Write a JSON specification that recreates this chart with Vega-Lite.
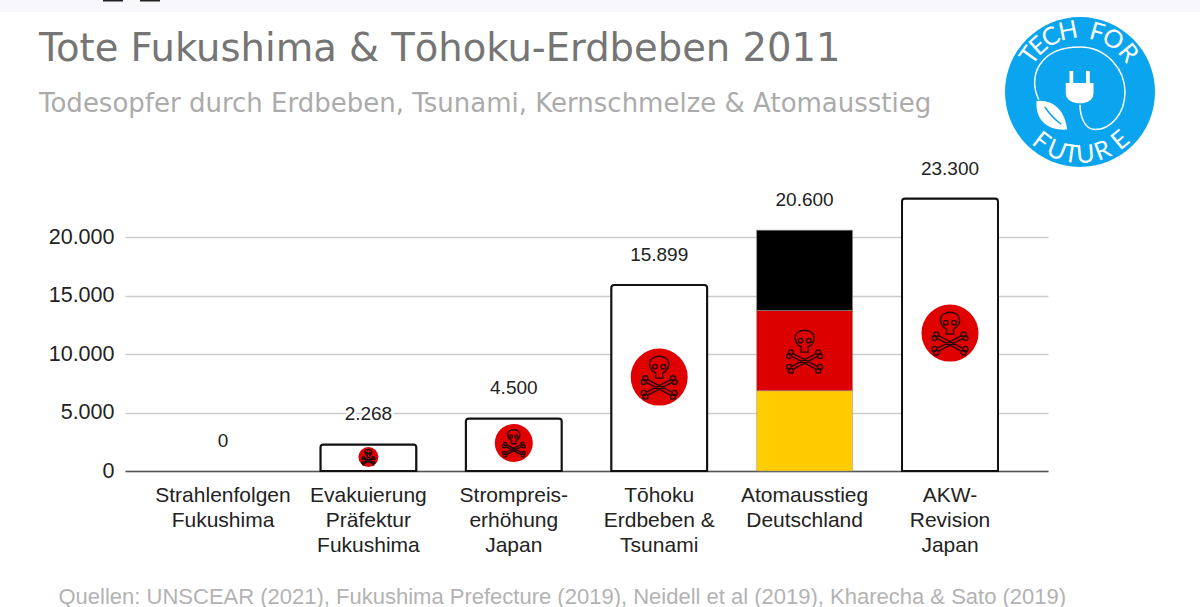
{
"$schema":"https://vega.github.io/schema/vega-lite/v6.json",
"autosize":"none",
"width":923,"height":304,
"padding":{"left":125,"top":167,"right":152,"bottom":136},
"background":"#ffffff",
"config":{"view":{"stroke":null},"locale":{"number":{"decimal":",","thousands":".","grouping":[3],"currency":["","€"]}}},
"title":{"text":"Tote Fukushima & Tōhoku-Erdbeben 2011","subtitle":"Todesopfer durch Erdbeben, Tsunami, Kernschmelze & Atomausstieg","anchor":"start","frame":"group","dx":-86,"offset":-118,"font":"DejaVu Sans","fontSize":38.5,"fontWeight":"normal","color":"#757575","subtitleFont":"DejaVu Sans","subtitleFontSize":26,"subtitleColor":"#ABABAB","subtitlePadding":22},
"datasets":{
"balken":[
{"kategorie":"Strahlenfolgen|Fukushima","wert":0,"mitte":0},
{"kategorie":"Evakuierung|Präfektur|Fukushima","wert":2268,"mitte":1197},
{"kategorie":"Strompreis-|erhöhung|Japan","wert":4500,"mitte":2393},
{"kategorie":"Tōhoku|Erdbeben &|Tsunami","wert":15899,"mitte":8034},
{"kategorie":"Atomausstieg|Deutschland","wert":20600,"mitte":10256},
{"kategorie":"AKW-|Revision|Japan","wert":23300,"mitte":11795}
],
"flagge":[
{"kategorie":"Atomausstieg|Deutschland","band":"Gold","von":0,"bis":6867},
{"kategorie":"Atomausstieg|Deutschland","band":"Rot","von":6867,"bis":13733},
{"kategorie":"Atomausstieg|Deutschland","band":"Schwarz","von":13733,"bis":20600}
],
"logo":[{"lx":0,"ly":0}],
"buchstaben":[
{"b":"T","lx":-50.2,"ly":36.4,"rot":-54},{"b":"E","lx":-41.5,"ly":46.1,"rot":-42},{"b":"C","lx":-29.1,"ly":54.7,"rot":-28},{"b":"H","lx":-11.8,"ly":60.9,"rot":-11},
{"b":"F","lx":17.1,"ly":59.6,"rot":16},{"b":"O","lx":32.9,"ly":52.6,"rot":32},{"b":"R","lx":48.2,"ly":39.0,"rot":51},
{"b":"F","lx":-38.8,"ly":-49.6,"rot":38},{"b":"U","lx":-23.6,"ly":-58.4,"rot":22},{"b":"T","lx":-8.8,"ly":-62.4,"rot":8},{"b":"U","lx":5.5,"ly":-62.8,"rot":-5},{"b":"R","lx":22.6,"ly":-58.8,"rot":-21},{"b":"E","lx":40.5,"ly":-48.3,"rot":-40}
],
"streifen":[
{"x1":-1080,"x2":120,"y1":92,"y2":80,"teil":"Streifen"},
{"x1":-977,"x2":-957,"y1":92,"y2":90.5,"teil":"Rest"},
{"x1":-940,"x2":-920,"y1":92,"y2":90.5,"teil":"Rest"}
]
},
"layer":[
{"data":{"name":"balken"},
 "resolve":{"scale":{"size":"independent"}},
 "layer":[
  {"transform":[{"filter":"datum.wert>0 && datum.wert!=20600"}],
   "mark":{"type":"bar","fill":"#ffffff","stroke":"#111111","strokeWidth":2,"cornerRadiusTopLeft":3,"cornerRadiusTopRight":3},
   "encoding":{
    "x":{"field":"kategorie","type":"nominal","title":"Quellen: UNSCEAR (2021), Fukushima Prefecture (2019), Neidell et al (2019), Kharecha & Sato (2019)",
     "scale":{"domain":["Strahlenfolgen|Fukushima","Evakuierung|Präfektur|Fukushima","Strompreis-|erhöhung|Japan","Tōhoku|Erdbeben &|Tsunami","Atomausstieg|Deutschland","AKW-|Revision|Japan"],"paddingInner":0.34,"paddingOuter":0.344},
     "axis":{"labelExpr":"split(datum.value,'|')","labelAngle":0,"labelFont":"Liberation Sans","labelFontSize":21,"labelColor":"#222222","labelLineHeight":25,"labelPadding":13,"labelBaseline":"top","ticks":false,"domainColor":"#555555","domainWidth":1.5,"titleFont":"Liberation Sans","titleFontSize":22,"titleFontWeight":"normal","titleColor":"#B3B3B3","titleAlign":"left","titleAnchor":"start","titleBaseline":"middle","titleX":-67,"titleY":125}},
    "y":{"field":"wert","type":"quantitative","title":null,"scale":{"domain":[0,26000],"nice":false},
     "axis":{"values":[0,5000,10000,15000,20000],"format":",d","labelFont":"Liberation Sans","labelFontSize":21.5,"labelColor":"#222222","labelPadding":11,"ticks":false,"domain":false,"grid":true,"gridColor":"#CCCCCC","gridWidth":1.5}}
   }},
  {"data":{"name":"flagge"},"mark":{"type":"bar","stroke":"#999999","strokeWidth":0.5},
   "encoding":{"x":{"field":"kategorie","type":"nominal"},
    "y":{"field":"von","type":"quantitative"},"y2":{"field":"bis"},
    "color":{"field":"band","type":"nominal","legend":null,"scale":{"domain":["Gold","Rot","Schwarz"],"range":["#FFCC00","#DD0000","#000000"]}}}},
  {"transform":[{"filter":"datum.wert>0 && datum.wert!=20600"}],"mark":{"type":"point","filled":true,"color":"#E00000","opacity":1},
   "encoding":{"x":{"field":"kategorie","type":"nominal"},"y":{"field":"mitte","type":"quantitative"},
    "size":{"field":"wert","type":"quantitative","legend":null,"scale":{"type":"threshold","domain":[3000,10000],"range":[400,1444,3249]}}}},
  {"transform":[{"filter":"datum.wert>0"}],"mark":{"type":"point","filled":false,"stroke":"#2a0505","strokeWidth":1.4,"opacity":1,
    "shape":"M-0.17,0.05 L-0.17,-0.2 C-0.38,-0.28 -0.46,-0.5 -0.46,-0.62 C-0.46,-0.9 -0.2,-1 0,-1 C0.2,-1 0.46,-0.9 0.46,-0.62 C0.46,-0.5 0.38,-0.28 0.17,-0.2 L0.17,0.05 Z M-0.31,-0.5 a0.11,0.11 0 1,0 0.22,0 a0.11,0.11 0 1,0 -0.22,0 Z M0.09,-0.5 a0.11,0.11 0 1,0 0.22,0 a0.11,0.11 0 1,0 -0.22,0 Z M-0.55,0.12 L0.6,0.72 M-0.62,0.25 L0.52,0.85 M0.55,0.12 L-0.6,0.72 M0.62,0.25 L-0.52,0.85 M-0.78,0.06 a0.12,0.12 0 1,0 0.24,0 a0.12,0.12 0 1,0 -0.24,0 Z M-0.86,0.24 a0.12,0.12 0 1,0 0.24,0 a0.12,0.12 0 1,0 -0.24,0 Z M0.54,0.06 a0.12,0.12 0 1,0 0.24,0 a0.12,0.12 0 1,0 -0.24,0 Z M0.62,0.24 a0.12,0.12 0 1,0 0.24,0 a0.12,0.12 0 1,0 -0.24,0 Z M-0.78,0.94 a0.12,0.12 0 1,0 0.24,0 a0.12,0.12 0 1,0 -0.24,0 Z M-0.86,0.76 a0.12,0.12 0 1,0 0.24,0 a0.12,0.12 0 1,0 -0.24,0 Z M0.54,0.94 a0.12,0.12 0 1,0 0.24,0 a0.12,0.12 0 1,0 -0.24,0 Z M0.62,0.76 a0.12,0.12 0 1,0 0.24,0 a0.12,0.12 0 1,0 -0.24,0 Z"},
   "encoding":{"x":{"field":"kategorie","type":"nominal"},"y":{"field":"mitte","type":"quantitative"},
    "size":{"field":"wert","type":"quantitative","legend":null,"scale":{"type":"threshold","domain":[3000,10000],"range":[225,700,1736]}}}},
  {"mark":{"type":"text","font":"Liberation Sans","fontSize":19,"stroke":"#ffffff","strokeWidth":5,"dy":-30,"baseline":"middle"},
   "encoding":{"x":{"field":"kategorie","type":"nominal"},"y":{"field":"wert","type":"quantitative"},"text":{"field":"wert","type":"quantitative","format":",d"}}},
  {"mark":{"type":"text","font":"Liberation Sans","fontSize":19,"color":"#222222","dy":-30,"baseline":"middle"},
   "encoding":{"x":{"field":"kategorie","type":"nominal"},"y":{"field":"wert","type":"quantitative"},"text":{"field":"wert","type":"quantitative","format":",d"}}}
 ]},
{"layer":[
  {"data":{"name":"streifen"},"mark":{"type":"rect"},
   "encoding":{"x":{"field":"x1","type":"quantitative","axis":null,"scale":{"domain":[-75,75],"range":[880,1030],"nice":false,"zero":false}},"x2":{"field":"x2"},
    "y":{"field":"y1","type":"quantitative","axis":null,"scale":{"domain":[-75,75],"range":[0,-150],"nice":false,"zero":false}},"y2":{"field":"y2"},
    "color":{"field":"teil","type":"nominal","legend":null,"scale":{"domain":["Streifen","Rest"],"range":["#F8F8FC","#222222"]}}}},
  {"data":{"name":"logo"},"mark":{"type":"point","filled":true,"color":"#0AA5EE","opacity":1,"size":22500,"shape":"circle"},
   "encoding":{"x":{"field":"lx","type":"quantitative"},"y":{"field":"ly","type":"quantitative"}}},
  {"data":{"name":"logo"},"mark":{"type":"point","filled":false,"stroke":"#ffffff","strokeWidth":1.5,"opacity":1,"size":22500,
    "shape":"M-0.55,0.1 C-0.7,-0.2 -0.55,-0.6 0,-0.6 C0.35,-0.6 0.6,-0.3 0.6,0 C0.6,0.3 0.4,0.5 0.2,0.5 C0.05,0.5 0,0.3 0,0.17"},
   "encoding":{"x":{"field":"lx","type":"quantitative"},"y":{"field":"ly","type":"quantitative"}}},
  {"data":{"name":"logo"},"mark":{"type":"point","filled":true,"color":"#ffffff","opacity":1,"size":22500,
    "shape":"M-0.19,-0.12 L-0.14,-0.12 L-0.14,-0.28 L-0.09,-0.28 L-0.09,-0.12 L0.08,-0.12 L0.08,-0.28 L0.13,-0.28 L0.13,-0.12 L0.18,-0.12 L0.18,0.02 Q0.18,0.12 0.04,0.15 L-0.04,0.15 Q-0.19,0.12 -0.19,0.02 Z M-0.58,0.12 C-0.35,0.1 -0.2,0.25 -0.17,0.5 C-0.4,0.52 -0.6,0.4 -0.58,0.12 Z"},
   "encoding":{"x":{"field":"lx","type":"quantitative"},"y":{"field":"ly","type":"quantitative"}}},
  {"data":{"name":"logo"},"mark":{"type":"point","filled":false,"stroke":"#0AA5EE","strokeWidth":1.5,"opacity":1,"size":22500,
    "shape":"M-0.47,0.2 C-0.4,0.3 -0.32,0.38 -0.25,0.43"},
   "encoding":{"x":{"field":"lx","type":"quantitative"},"y":{"field":"ly","type":"quantitative"}}},
  {"data":{"name":"buchstaben"},"mark":{"type":"text","font":"Lato","fontWeight":400,"fontSize":25,"color":"#ffffff","baseline":"middle","align":"center"},
   "encoding":{"x":{"field":"lx","type":"quantitative"},"y":{"field":"ly","type":"quantitative"},"text":{"field":"b","type":"nominal"},"angle":{"field":"rot","type":"quantitative","scale":null}}}
 ]}
],
"resolve":{"scale":{"x":"independent","y":"independent","color":"independent","size":"independent"}}
}
